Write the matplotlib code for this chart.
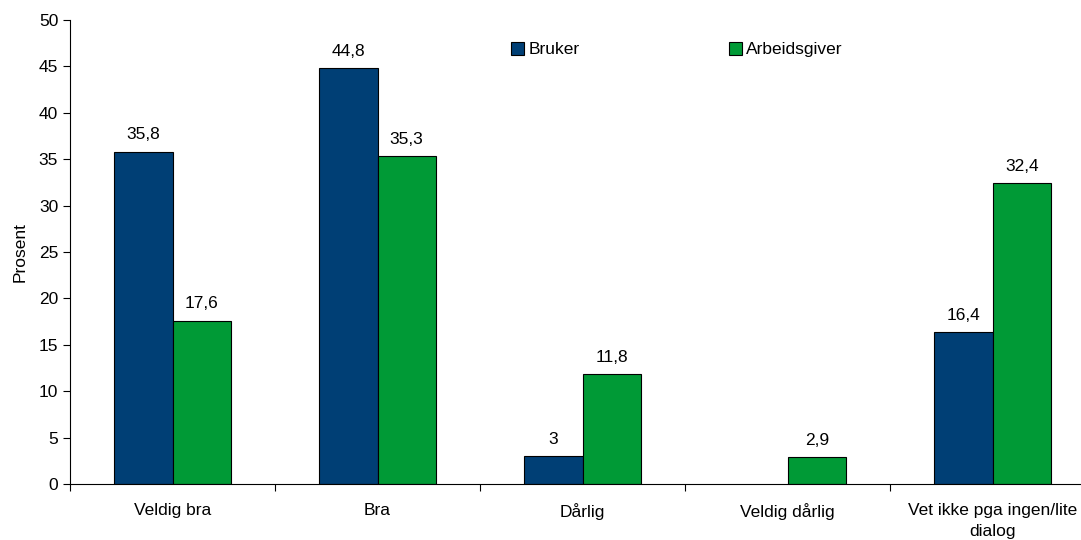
import matplotlib.pyplot as plt
import numpy as np

plt.rcParams['font.family'] = ['Liberation Sans', 'DejaVu Sans']

categories = ['Veldig bra', 'Bra', 'Dårlig', 'Veldig dårlig', 'Vet ikke pga ingen/lite\ndialog']
bruker = [35.8, 44.8, 3, None, 16.4]
arbeidsgiver = [17.6, 35.3, 11.8, 2.9, 32.4]
bruker_labels = ['35,8', '44,8', '3', '', '16,4']
arbeid_labels = ['17,6', '35,3', '11,8', '2,9', '32,4']

blue = '#003f75'
green = '#009a36'
fs = 12.5

fig = plt.figure(figsize=(10.81, 5.4), dpi=100)
ax = fig.add_axes([70 / 1081, 1 - 484 / 540, 1025 / 1081, 464 / 540])

x = np.arange(len(categories))
w = 0.285
b_vals = [v if v is not None else 0 for v in bruker]
bb = ax.bar(x - w / 2, b_vals, w, color=blue, edgecolor='black', linewidth=0.8, label='Bruker')
ba = ax.bar(x + w / 2, arbeidsgiver, w, color=green, edgecolor='black', linewidth=0.8, label='Arbeidsgiver')
# no bar for the missing value
for rect, v in zip(bb, bruker):
    if v is None:
        rect.set_visible(False)

for rect, lab in zip(bb, bruker_labels):
    if lab:
        ax.text(rect.get_x() + rect.get_width() / 2, rect.get_height() + 1.0, lab,
                ha='center', va='bottom', fontsize=fs)
for rect, lab in zip(ba, arbeid_labels):
    ax.text(rect.get_x() + rect.get_width() / 2, rect.get_height() + 1.0, lab,
            ha='center', va='bottom', fontsize=fs)

ax.set_xlim(-0.5, len(categories) - 0.5)
ax.set_ylim(0, 50)
ax.set_yticks(np.arange(0, 51, 5))
ax.set_xticks(np.arange(len(categories) + 1) - 0.5, minor=False)
ax.set_xticklabels([])
ax.set_xticks(x, minor=True)
ax.set_xticklabels(categories, minor=True, fontsize=fs, multialignment='center', linespacing=1.5)
ax.tick_params(axis='x', which='minor', length=0, pad=14)
ax.tick_params(axis='x', which='major', length=5, direction='out')
ax.tick_params(axis='y', labelsize=fs, length=5)
ax.set_ylabel('Prosent', fontsize=fs, labelpad=8)

for s in ['top', 'right']:
    ax.spines[s].set_visible(False)

ax.legend(loc='center', bbox_to_anchor=(0.592, 0.936), ncol=2, frameon=False,
          fontsize=fs, handlelength=0.75, handleheight=0.75, handletextpad=0.25,
          columnspacing=8.6)

fig.savefig('out.png', dpi=100)
